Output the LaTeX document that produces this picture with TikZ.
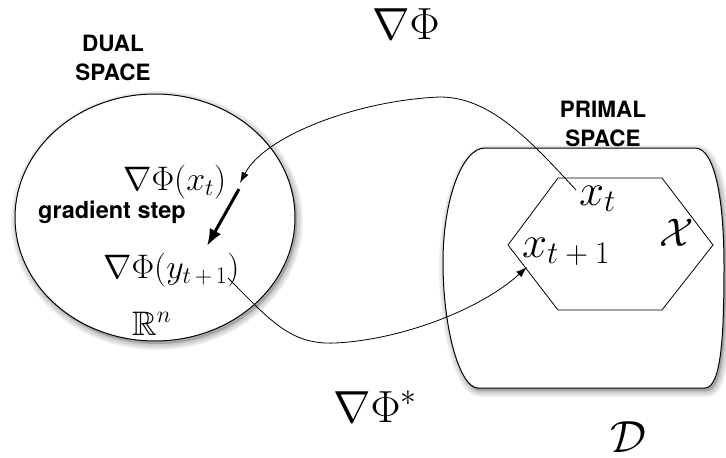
\IfFileExists{fix-cm.sty}{\RequirePackage{fix-cm}}{}
\documentclass[tikz,border=0pt]{standalone}
\usepackage{fontspec}
\usepackage{amssymb}
\newfontfamily\hv{TeX Gyre Heros}
\usetikzlibrary{arrows.meta}
\newcommand\primalshape{(485,148) -- (695,148) .. controls (716,148) and (724,205) .. (724,265) .. controls (724,330) and (722,388) .. (705,388) -- (478,388) .. controls (460,388) and (443,330) .. (443,262) .. controls (443,200) and (462,148) .. (485,148) -- cycle}
\begin{document}
\begin{tikzpicture}[x=1pt,y=-1pt,
  lbl/.style={font=\hv\bfseries\fontsize{22.5}{29}\selectfont, align=center, inner sep=0},
  glbl/.style={font=\hv\bfseries\fontsize{23.5}{28}\selectfont, inner sep=0},
  bigm/.style={font=\fontsize{45}{52}\selectfont, inner sep=0},
  midm/.style={font=\fontsize{34}{40}\selectfont, inner sep=0},
  hexm/.style={font=\fontsize{45}{52}\selectfont, inner sep=0},
  conn/.style={-{Latex[length=11pt,width=7.5pt]}, line width=0.8pt},
  thick arrow/.style={-{Latex[length=17pt,width=13pt]}, line width=3pt},
  region/.style={fill=white, draw=black, line width=1pt},
  shadowlayer/.style={fill=black, draw=black, line width=#1, fill opacity=0.05, draw opacity=0.06, line join=round, shift={(2,3)}}]
\useasboundingbox (0,0) rectangle (726,458);
% shadows
\foreach \w in {12pt,9pt,6pt,3pt} {
  \path[shadowlayer=\w] (155,217.5) ellipse [x radius=140, y radius=123.5];
  \path[shadowlayer=\w] \primalshape;
}
% dual space
\draw[region] (155,217.5) ellipse [x radius=140, y radius=123.5];
% primal space
\draw[region] \primalshape;
\draw[line width=0.8pt] (558,178) -- (662,178) -- (713,245) -- (662,310) -- (558,310) -- (508,245) -- cycle;
% labels
\node[lbl] (dual) at (113,57.5) {DUAL\\SPACE};
\node[lbl] (primal) at (603,123.5) {PRIMAL\\SPACE};
\node[bigm, anchor=base] (grad) at (406,39) {$\nabla\Phi$};
\node[bigm, anchor=base west] (gradstar) at (333,422) {$\nabla\Phi^*$};
\node[bigm] (D) at (628,437) {$\mathcal{D}$};
\node[midm, anchor=base west] (gx) at (123,190) {$\nabla\Phi(x_t)$};
\node[glbl, anchor=base west] (gs) at (38,218) {gradient step};
\node[midm, anchor=base west] (gy) at (103,278) {$\nabla\Phi(y_{t\mkern3mu+\mkern3mu1})$};
\node[midm, anchor=base west] (Rn) at (132,335) {$\mathbb{R}^n$};
\node[hexm, anchor=base west] (xt) at (579,205) {$x_t$};
\node[hexm, anchor=base west] (xt1) at (522,257) {$x_{t\mkern4mu+\mkern4mu1}$};
\node[font=\fontsize{40}{48}\selectfont, inner sep=0] (X) at (677,233) {$\mathcal{X}$};
% connection points
\coordinate (xtin) at (576,190);
\coordinate (gxend) at (240,183);
\coordinate (gsfrom) at (239,189);
\coordinate (gsto) at (207,246);
\coordinate (gyout) at (228,278);
\coordinate (xt1end) at (527,267);
% arrows
\draw[conn] (xtin) .. controls (530,140) and (490,97) .. (440,97) .. controls (360,100) and (265,135) .. (gxend);
\draw[thick arrow] (gsfrom) -- (gsto);
\draw[conn] (gyout) .. controls (270,320) and (290,345) .. (335,343) .. controls (400,340) and (480,310) .. (xt1end);
\end{tikzpicture}
\end{document}
